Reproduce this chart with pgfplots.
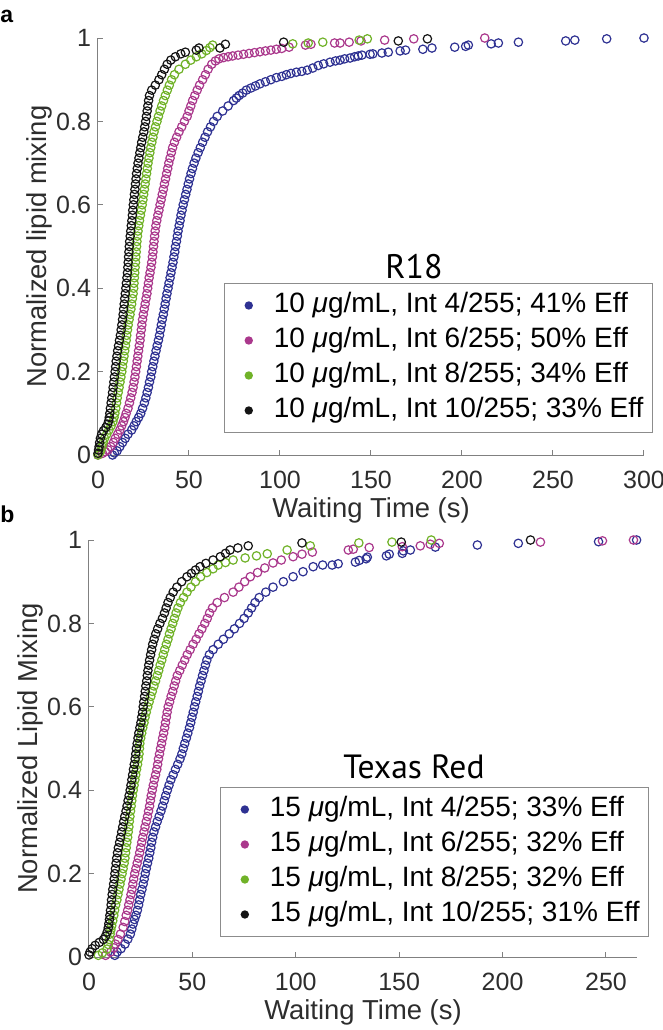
\documentclass[border=0pt]{standalone}
\usepackage{fontspec}
\setmainfont{Liberation Sans}
\newfontfamily\titlefont{PT Sans}
\usepackage{pgfplots}
\usepackage{pgfplotstable}
\pgfplotsset{compat=1.18}
\definecolor{cBlue}{RGB}{46,49,146}
\definecolor{cMag}{RGB}{170,56,140}
\definecolor{cGreen}{RGB}{112,178,40}
\definecolor{cBlack}{RGB}{20,20,20}
\definecolor{axgray}{RGB}{128,128,128}
\definecolor{txtgray}{RGB}{45,45,45}

% ---------- Panel a (R18) ----------
\pgfplotstableread{
y x
0.000 8
0.005 9
0.010 10.5
0.020 12
0.030 13.5
0.040 15
0.050 16.5
0.060 18.5
0.070 19.8
0.080 21
0.090 22.3
0.100 23.5
0.112 24.5
0.125 25.5
0.137 26.3
0.150 27
0.162 27.7
0.175 28.3
0.187 29
0.200 29.5
0.212 30.1
0.225 30.7
0.237 31.3
0.250 31.9
0.262 32.5
0.275 33.2
0.287 33.8
0.300 34.3
0.312 34.8
0.325 35.3
0.337 35.9
0.350 36.4
0.362 36.9
0.375 37.4
0.387 37.9
0.400 38.5
0.412 39.0
0.425 39.6
0.437 40.1
0.450 40.7
0.462 41.2
0.475 41.7
0.487 42.2
0.500 42.6
0.512 43.1
0.525 43.6
0.537 44.0
0.550 44.6
0.562 45.1
0.575 45.6
0.587 46.2
0.600 46.8
0.612 47.5
0.625 48.2
0.637 48.9
0.650 49.6
0.662 50.3
0.675 51.1
0.687 51.9
0.700 52.8
0.712 53.8
0.725 55.0
0.737 56.2
0.750 57.5
0.762 58.8
0.775 60.2
0.787 61.8
0.800 63.5
0.812 65.5
0.825 68.5
0.837 71.5
0.850 74.5
0.856 76
0.862 77.5
0.868 79.5
0.875 81.5
0.880 84
0.885 86.5
0.890 89
0.895 92
0.900 95
0.905 98
0.908 101
0.912 103.5
0.915 106
0.918 109
0.920 112
0.923 115
0.928 118
0.934 121
0.938 124
0.942 127.5
0.945 130.5
0.947 133
0.950 135.5
0.952 138.5
0.955 141
0.957 143
0.959 145
0.961 149.5
0.962 151
0.964 156
0.966 159.5
0.969 166
0.971 169
0.973 178.5
0.976 183.5
0.978 196
0.980 202
0.983 203.5
0.986 216
0.988 220
0.990 231
0.993 257
0.995 262
0.998 279.5
1.000 300
}\aBlue

\pgfplotstableread{
y x
0.000 0
0.004 2.5
0.008 4
0.012 5.5
0.020 7
0.030 8.5
0.040 9.5
0.050 10.8
0.060 12
0.070 13
0.080 14
0.090 14.8
0.100 15.5
0.112 16.5
0.125 17.3
0.137 18
0.150 18.7
0.162 19.3
0.175 19.8
0.187 20.3
0.200 20.7
0.212 21.1
0.225 21.5
0.237 21.9
0.250 22.3
0.262 22.7
0.275 23.1
0.287 23.4
0.300 23.8
0.312 24.1
0.325 24.5
0.337 24.9
0.350 25.4
0.362 25.9
0.375 26.4
0.387 26.9
0.400 27.3
0.412 27.7
0.425 28.1
0.437 28.6
0.450 29.1
0.462 29.5
0.475 29.9
0.487 30.2
0.500 30.5
0.512 30.8
0.525 31.1
0.537 31.4
0.550 31.8
0.562 32.3
0.575 32.9
0.587 33.5
0.600 34.1
0.612 34.7
0.625 35.3
0.637 35.9
0.650 36.5
0.662 37.1
0.675 37.7
0.687 38.3
0.700 38.9
0.712 39.6
0.725 40.3
0.737 41
0.750 42
0.762 43.2
0.775 44.5
0.787 46
0.800 47.5
0.812 49
0.825 50
0.837 51
0.850 52
0.862 53.2
0.875 54.5
0.887 55.8
0.900 57.5
0.912 59
0.925 60.5
0.937 62.5
0.945 64.5
0.950 66.5
0.953 69
0.955 71.5
0.957 74
0.959 77
0.961 80
0.963 83
0.965 86
0.967 89
0.969 92
0.971 95
0.973 98
0.975 101
0.978 105
0.983 114
0.985 117
0.988 130
0.988 133
0.990 138
0.993 144.5
0.995 157.5
0.998 173.5
1.000 212.5
}\aMag

\pgfplotstableread{
y x
0.000 0
0.005 0.8
0.010 1.5
0.020 2.2
0.030 2.8
0.040 3.6
0.050 4.8
0.060 6
0.070 7.2
0.080 8.2
0.090 8.8
0.100 9.3
0.112 9.8
0.125 10.2
0.137 10.6
0.150 11.1
0.162 11.6
0.175 12.1
0.187 12.6
0.200 13.1
0.212 13.5
0.225 13.9
0.237 14.3
0.250 14.7
0.262 15.1
0.275 15.5
0.287 15.8
0.300 16.2
0.312 16.6
0.325 17.1
0.337 17.6
0.350 18.1
0.362 18.5
0.375 18.9
0.387 19.3
0.400 19.6
0.412 19.8
0.425 20
0.437 20.2
0.450 20.4
0.462 20.6
0.475 20.8
0.487 21
0.500 21.2
0.512 21.4
0.525 21.7
0.537 22
0.550 22.4
0.562 22.8
0.575 23.3
0.587 23.8
0.600 24.3
0.612 24.7
0.625 25.1
0.637 25.5
0.650 25.9
0.662 26.3
0.675 26.7
0.687 27.1
0.700 27.5
0.712 28
0.725 28.5
0.737 29
0.750 29.6
0.762 30.2
0.775 30.8
0.787 31.6
0.800 32.4
0.812 33.2
0.825 34.1
0.837 35
0.850 36
0.862 37
0.875 38.1
0.887 39.2
0.900 40.4
0.912 42
0.925 44.5
0.937 48
0.947 51
0.955 54
0.962 57
0.970 59.5
0.977 61.5
0.983 63
0.986 107
0.988 115.5
0.990 123.5
0.995 143.5
0.998 148
}\aGreen

\pgfplotstableread{
y x
0.004 0
0.012 0.3
0.020 0.6
0.030 0.9
0.040 1.3
0.050 2
0.058 3
0.066 4.3
0.074 5.3
0.082 5.9
0.090 6.2
0.100 6.5
0.112 6.8
0.125 7.2
0.137 7.6
0.150 8
0.162 8.3
0.175 8.7
0.187 9
0.200 9.4
0.212 9.7
0.225 10
0.237 10.4
0.250 10.8
0.262 11.3
0.275 11.8
0.287 12.3
0.300 12.7
0.312 13.1
0.325 13.5
0.337 13.8
0.350 14.1
0.362 14.4
0.375 14.7
0.387 15
0.400 15.3
0.412 15.6
0.425 15.9
0.437 16.2
0.450 16.4
0.462 16.6
0.475 16.8
0.487 17
0.500 17.2
0.512 17.4
0.525 17.7
0.537 18
0.550 18.3
0.562 18.6
0.575 18.9
0.587 19.1
0.600 19.4
0.612 19.7
0.625 20
0.637 20.3
0.650 20.6
0.662 20.9
0.675 21.2
0.687 21.6
0.700 22
0.712 22.5
0.725 23
0.737 23.5
0.750 24
0.762 24.6
0.775 25.2
0.787 25.7
0.800 26.2
0.812 26.6
0.825 27
0.837 27.4
0.850 27.8
0.862 28.3
0.875 29.5
0.887 31.5
0.900 33.5
0.912 35
0.925 36.5
0.937 38
0.947 40
0.955 42.5
0.962 45.5
0.966 48
0.971 54
0.976 55.5
0.976 67
0.985 70
0.990 102
0.993 165
0.998 181
}\aBlack

% ---------- Panel b (Texas Red) ----------
\pgfplotstableread{
y x
0.004 12.5
0.012 13.6
0.020 15.5
0.031 17.4
0.043 18.8
0.055 20
0.067 20.7
0.079 21.3
0.090 22
0.100 22.7
0.112 23.4
0.125 24
0.137 24.5
0.150 25
0.162 25.6
0.175 26.2
0.187 26.7
0.200 27.2
0.212 27.7
0.225 28.3
0.237 28.9
0.250 29.4
0.262 29.9
0.275 30.3
0.287 30.8
0.300 31.4
0.312 32.2
0.325 33
0.337 33.9
0.350 34.8
0.362 35.6
0.375 36.4
0.387 37.1
0.400 37.9
0.412 38.7
0.425 39.6
0.437 40.7
0.450 41.8
0.462 42.9
0.475 44
0.487 44.9
0.500 45.6
0.512 46.3
0.525 47.1
0.537 47.8
0.550 48.6
0.562 49.2
0.575 49.8
0.587 50.4
0.600 51
0.612 51.6
0.625 52.3
0.637 52.9
0.650 53.5
0.662 54.2
0.675 54.9
0.687 55.6
0.700 56.3
0.712 57
0.725 58.2
0.737 60
0.750 62.5
0.762 65
0.775 67.8
0.787 70.3
0.800 72.8
0.812 75
0.825 77
0.837 78.6
0.850 80.3
0.862 82.3
0.875 85.5
0.887 89
0.900 94
0.912 98.7
0.924 103.5
0.936 108.4
0.940 113
0.940 117.6
0.943 120.5
0.947 128.8
0.951 130.7
0.955 134
0.959 134.6
0.962 143.8
0.966 145.2
0.968 151.5
0.974 152
0.976 155.4
0.983 167.5
0.988 187.8
0.992 207.6
0.996 246.4
1.000 264.8
}\bBlue

\pgfplotstableread{
y x
0.004 8
0.012 10.5
0.022 12
0.031 12.8
0.042 14
0.055 15.2
0.071 16.5
0.085 17.3
0.100 18
0.112 18.7
0.125 19.2
0.137 19.8
0.150 20.3
0.162 20.8
0.175 21.2
0.187 21.6
0.200 22.1
0.212 22.7
0.225 23.3
0.237 23.9
0.250 24.5
0.262 25
0.275 25.5
0.287 26
0.300 26.6
0.312 27.1
0.325 27.7
0.337 28.3
0.350 28.8
0.362 29.3
0.375 29.7
0.387 30.1
0.400 30.6
0.412 31.1
0.425 31.6
0.437 32.2
0.450 32.8
0.462 33.2
0.475 33.6
0.487 34.1
0.500 34.6
0.512 35.1
0.525 35.6
0.537 36.1
0.550 36.6
0.562 37
0.575 37.4
0.587 37.8
0.600 38.3
0.612 39
0.625 39.7
0.637 40.5
0.650 41.2
0.662 41.9
0.675 42.7
0.687 43.9
0.700 45.1
0.712 46.3
0.725 47.5
0.737 48.9
0.750 50.3
0.762 51.8
0.775 53.2
0.787 54.6
0.800 56
0.812 57.2
0.825 58.3
0.837 59.7
0.850 62
0.862 65.5
0.875 69.7
0.887 72.5
0.900 75.3
0.912 78
0.922 81.5
0.933 85
0.945 89
0.952 93
0.960 98.7
0.966 103
0.971 108
0.976 125.4
0.978 127.8
0.982 135.5
0.984 151.5
0.986 160.2
0.990 165
0.992 169.4
0.995 218.3
0.998 248.3
1.000 263.3
}\bMag

\pgfplotstableread{
y x
0.004 4.5
0.010 6.5
0.019 8.7
0.030 9.3
0.042 9.8
0.055 10.2
0.065 10.6
0.075 11
0.087 11.5
0.100 12
0.112 12.4
0.125 12.9
0.137 13.5
0.150 14
0.162 14.5
0.175 15
0.187 15.5
0.200 16
0.212 16.5
0.225 17
0.237 17.4
0.250 17.7
0.262 18
0.275 18.3
0.287 18.7
0.300 19
0.312 19.3
0.325 19.5
0.337 19.8
0.350 20.1
0.362 20.4
0.375 20.7
0.387 21
0.400 21.4
0.412 21.8
0.425 22.2
0.437 22.6
0.450 23
0.462 23.5
0.475 23.9
0.487 24.2
0.500 24.4
0.512 24.6
0.525 25
0.537 25.5
0.550 26
0.562 26.6
0.575 27.1
0.587 27.7
0.600 28.4
0.612 29.1
0.625 29.9
0.637 30.6
0.650 31.4
0.662 32.2
0.675 33
0.687 33.7
0.700 34.4
0.712 35.2
0.725 35.9
0.737 36.6
0.750 37.4
0.762 38.2
0.775 38.9
0.787 39.7
0.800 40.5
0.812 41.3
0.825 42.1
0.837 43
0.850 44.2
0.862 45.7
0.875 47.4
0.887 49.3
0.900 51.5
0.912 54
0.922 57
0.931 60
0.940 62.5
0.946 66
0.952 69.7
0.957 75.5
0.962 81
0.967 86.2
0.976 95.8
0.986 107
0.993 130.5
0.995 146.5
1.000 165.5
}\bGreen

\pgfplotstableread{
y x
0.005 0
0.012 0.5
0.020 1.5
0.028 3
0.035 5
0.042 7
0.050 8
0.060 8.8
0.070 9.3
0.080 9.6
0.090 9.9
0.100 10.1
0.112 10.4
0.125 10.7
0.137 10.9
0.150 11.2
0.162 11.5
0.175 11.9
0.187 12.2
0.200 12.5
0.212 12.8
0.225 13.1
0.237 13.4
0.250 13.8
0.262 14.2
0.275 14.8
0.287 15.3
0.300 15.8
0.312 16.3
0.325 16.8
0.337 17.3
0.350 17.9
0.362 18.4
0.375 18.9
0.387 19.4
0.400 19.9
0.412 20.3
0.425 20.7
0.437 21.1
0.450 21.5
0.462 21.9
0.475 22.3
0.487 22.6
0.500 22.9
0.512 23.3
0.525 23.7
0.537 24.1
0.550 24.6
0.562 25.1
0.575 25.5
0.587 25.9
0.600 26.2
0.612 26.5
0.625 26.9
0.637 27.2
0.650 27.5
0.662 27.9
0.675 28.2
0.687 28.5
0.700 28.9
0.712 29.3
0.725 29.8
0.737 30.3
0.750 30.8
0.762 31.5
0.775 32.3
0.787 33.2
0.800 34.3
0.812 35.5
0.825 36.5
0.837 37.3
0.850 38.2
0.862 39.3
0.875 40.7
0.887 42.5
0.900 44.8
0.912 47.4
0.920 49.5
0.928 51.5
0.936 53.7
0.944 56.5
0.952 60
0.960 63.5
0.968 66
0.976 68.2
0.981 72
0.986 77
0.993 103
0.995 151
1.000 213.5
}\bBlack

\pgfplotsset{
  panel/.style={
    scale only axis,
    axis x line=bottom, axis y line=left,
    axis line style={-, draw=axgray, line width=0.5pt},
    tick align=inside,
    major tick length=2.7pt,
    tick style={draw=axgray, line width=0.5pt},
    ymin=0, ymax=1,
    ytick={0,0.2,0.4,0.6,0.8,1},
    yticklabels={0,0.2,0.4,0.6,0.8,1},
    clip=false,
    /pgf/number format/assume math mode=true,
    tick label style={font=\fontsize{12.5}{14}\selectfont, text=txtgray},
    xticklabel style={yshift=-4.3pt},
    label style={font=\fontsize{13.7}{16}\selectfont, text=txtgray},
    xlabel style={at={(axis description cs:0.5,-0.134)}, anchor=center},
    ylabel style={at={(axis description cs:-0.107,0.5)}, anchor=center},
    legend cell align=left,
    legend image code/.code={\path[draw=none,fill=none] (0pt,-2pt) rectangle (20pt,2pt); \fill[##1, draw=none] (10pt,0pt) circle (2.1pt);},
    legend style={anchor=south east, draw=black!45, line width=0.5pt, fill=white,
      inner xsep=2pt, inner ysep=2.25pt,
      font=\fontsize{14}{16}\selectfont, text=black,
      nodes={inner xsep=2.5pt, inner ysep=2pt, text height=10.5pt, text depth=3pt},
      column sep=0pt, row sep=0pt},
    every axis plot/.append style={only marks, mark=o, mark size=2.1pt, mark options={line width=0.6pt}},
  }
}

\begin{document}
\begin{tikzpicture}
\useasboundingbox (0pt,0pt) rectangle (331.5pt,-515pt);

\node[font=\bfseries\fontsize{11.5}{13}\selectfont, anchor=base west, inner sep=0pt] at (0pt,-11pt) {a};
\node[font=\bfseries\fontsize{11.5}{13}\selectfont, anchor=base west, inner sep=0pt] at (0pt,-261pt) {b};

\begin{axis}[panel,
  at={(49pt,-227.5pt)}, anchor=south west,
  width=273pt, height=208.5pt,
  xmin=0, xmax=300,
  xtick={0,50,100,150,200,250,300},
  xticklabels={0,50,100,150,200,250,300},
  xlabel={Waiting Time (s)},
  ylabel={Normalized lipid mixing},
  legend style={at={(1.0165,0.0528)}},
]
\addplot[cBlue, forget plot] table[x=x,y=y] {\aBlue};
\addplot[cMag, forget plot] table[x=x,y=y] {\aMag};
\addplot[cGreen, forget plot] table[x=x,y=y] {\aGreen};
\addplot[cBlack, forget plot] table[x=x,y=y] {\aBlack};
\addlegendimage{color=cBlue}\addlegendentry{10 \textit{μ}g/mL, Int 4/255; 41\% Eff}
\addlegendimage{color=cMag}\addlegendentry{10 \textit{μ}g/mL, Int 6/255; 50\% Eff}
\addlegendimage{color=cGreen}\addlegendentry{10 \textit{μ}g/mL, Int 8/255; 34\% Eff}
\addlegendimage{color=cBlack}\addlegendentry{10 \textit{μ}g/mL, Int 10/255; 33\% Eff}
\node[font=\titlefont\fontsize{17}{20}\selectfont, anchor=center] at (rel axis cs:0.579,0.451) {R18};
\end{axis}

\begin{axis}[panel,
  at={(44.5pt,-478.5pt)}, anchor=south west,
  width=274pt, height=208.5pt,
  xmin=0, xmax=265,
  xtick={0,50,100,150,200,250},
  xticklabels={0,50,100,150,200,250},
  xlabel={Waiting Time (s)},
  ylabel={Normalized Lipid Mixing},
  legend style={at={(1.022,0.048)}},
]
\addplot[cBlue, forget plot] table[x=x,y=y] {\bBlue};
\addplot[cMag, forget plot] table[x=x,y=y] {\bMag};
\addplot[cGreen, forget plot] table[x=x,y=y] {\bGreen};
\addplot[cBlack, forget plot] table[x=x,y=y] {\bBlack};
\addlegendimage{color=cBlue}\addlegendentry{15 \textit{μ}g/mL, Int 4/255; 33\% Eff}
\addlegendimage{color=cMag}\addlegendentry{15 \textit{μ}g/mL, Int 6/255; 32\% Eff}
\addlegendimage{color=cGreen}\addlegendentry{15 \textit{μ}g/mL, Int 8/255; 32\% Eff}
\addlegendimage{color=cBlack}\addlegendentry{15 \textit{μ}g/mL, Int 10/255; 31\% Eff}
\node[font=\titlefont\fontsize{16.8}{20}\selectfont, anchor=center] at (rel axis cs:0.593,0.456) {Texas Red};
\end{axis}
\end{tikzpicture}
\end{document}
